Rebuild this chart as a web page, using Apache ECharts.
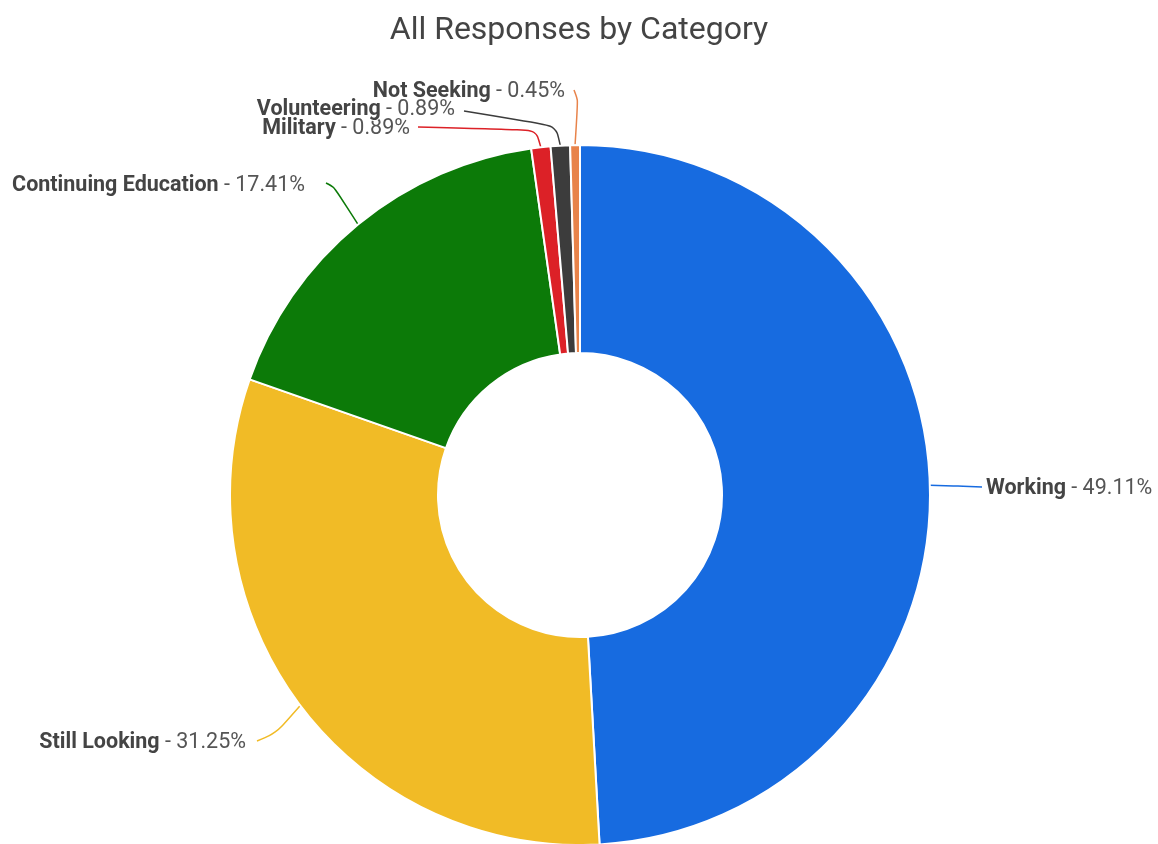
<!DOCTYPE html>
<html lang="en">

<head>
    <meta charset="utf-8" />
    <title>All Responses by Category</title>
    <style>
        html,
        body,
        #myChart {
            width: 100%;
            height: 100%;
            margin: 0;
            padding: 0;
            overflow: hidden;
            background: #ffffff;
        }
    </style>
</head>

<body>
    <div id="myChart"></div>
    <script src="https://cdn.jsdelivr.net/npm/echarts@6/dist/echarts.min.js"></script>
    <script>
        // data (percent of all responses)
        var categories = ['Working', 'Still Looking', 'Continuing Education', 'Military', 'Volunteering', 'Not Seeking'];
        var percents = [49.11, 31.25, 17.41, 0.89, 0.89, 0.45];
        var colors = ['#176be0', '#f1bb26', '#0c7a08', '#dc2127', '#3c3c3c', '#e8834a'];

        // where each label sits, and the bend of its leader line
        var labelSpots = [
            { x: 986, y: 489, align: 'left', bend: [958, 486], end: [982, 487] },
            { x: 246, y: 743, align: 'right', bend: [276, 733], end: [257, 741] },
            { x: 305, y: 186, align: 'right', bend: [334, 187], end: [326, 183] },
            { x: 410, y: 129, align: 'right', bend: [536, 130], end: [418, 127] },
            { x: 455, y: 110, align: 'right', bend: [556, 126], end: [464, 111] },
            { x: 565, y: 92, align: 'right', bend: [578, 100], end: [574, 90] }
        ];

        var myChart = echarts.init(document.getElementById('myChart'));
        var option = {
            title: {
                text: 'All Responses by Category',
                left: 'center',
                top: 10,
                textStyle: {
                    fontFamily: 'Roboto',
                    fontWeight: 'normal',
                    fontSize: 32,
                    color: '#444444'
                }
            },
            color: colors,
            series: [{
                type: 'pie',
                center: [580, 495],
                radius: [142, 350],
                startAngle: 90,
                clockwise: true,
                avoidLabelOverlap: false,
                itemStyle: {
                    borderColor: '#ffffff',
                    borderWidth: 2
                },
                label: {
                    show: true,
                    formatter: '{n|{b}}{v| - {c}%}',
                    textBorderColor: '#ffffff',
                    textBorderWidth: 2,
                    rich: {
                        n: {
                            fontFamily: 'Roboto',
                            fontWeight: 'bold',
                            fontSize: 21.5,
                            color: '#444444'
                        },
                        v: {
                            fontFamily: 'Roboto',
                            fontSize: 21.5,
                            color: '#555555'
                        }
                    }
                },
                labelLine: {
                    show: true,
                    length: 20,
                    length2: 20,
                    smooth: 0.3,
                    lineStyle: { width: 1.5 }
                },
                labelLayout: function (params) {
                    var s = labelSpots[params.dataIndex];
                    var p0 = params.labelLinePoints ? params.labelLinePoints[0] : s.bend;
                    return {
                        x: s.x,
                        y: s.y,
                        align: s.align,
                        verticalAlign: 'middle',
                        labelLinePoints: [[p0[0], p0[1]], s.bend, s.end]
                    };
                },
                emphasis: { disabled: true },
                data: categories.map(function (name, i) {
                    return { name: name, value: percents[i] };
                })
            }]
        };
        myChart.setOption(option);
    </script>
</body>

</html>
